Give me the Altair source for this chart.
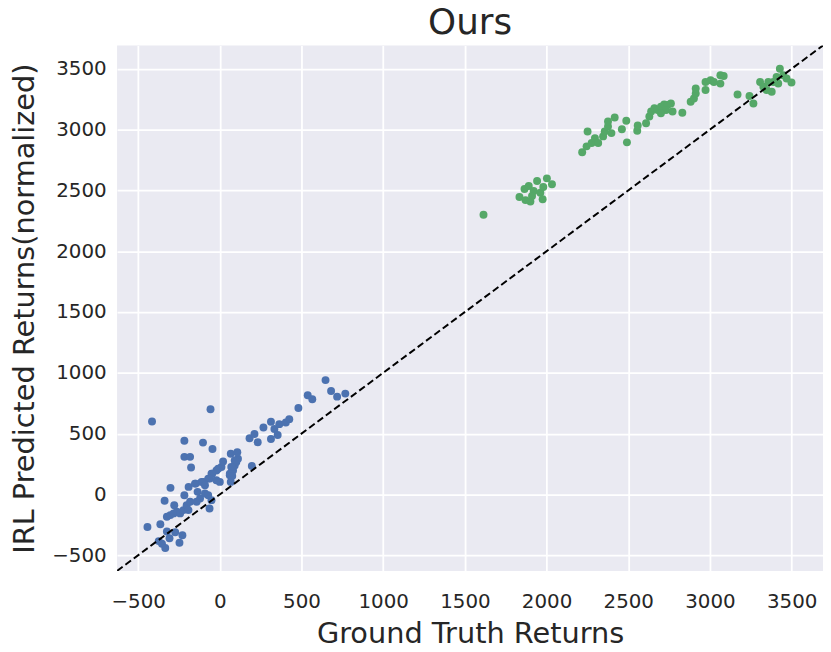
import altair as alt
import pandas as pd

# ---- data ----
blue_x = [-415, -57, -217, -103, -45, -217, -182, -176, -302, -338,
          -443, -364, -354, -334, -374, -308, -247, -229, -273, -324,
          -324, -303, -283, -263, -243, -223, -279, -217, -203, -182,
          -192, -191, -148, -136, -121, -142, -91, -71, -51, -63,
          -101, -71, -51, -21, 10, 20, 0, 67, 61, 81,
          91, 101, 111, 67, 107, 196, 182, 212, 232, 313,
          267, 313, 334, 364, 404, 425, 481, 538, 566, 647,
          681, 718, 768, 354, 91, 70, 61, 76, -10, -47,
          -61, -21, -112, -152, -91]
blue_y = [600, 701, 442, 426, 374, 309, 309, 222, 54, -52,
          -268, -246, -406, -441, -384, -360, -398, -335, -311, -305,
          -183, -170, -156, -142, -156, -129, -88, -7, -88, -60,
          -129, 62, 89, 21, -33, -60, 7, -7, -47, -115,
          103, 130, 170, 197, 225, 271, 103, 103, 157, 197,
          238, 266, 293, 334, 347, 233, 462, 497, 429, 456,
          551, 597, 538, 578, 592, 619, 711, 815, 782, 940,
          850, 804, 829, 489, 279, 225, 170, 152, 211, 170,
          130, 116, 103, 89, 75]

green_x = [1614, 1834, 1871, 1901, 1891, 1942, 2002, 2033, 1921, 1962,
           1976, 1911, 1865, 1980, 2218, 2251, 2245, 2276, 2296, 2316,
           2346, 2356, 2376, 2376, 2417, 2397, 2461, 2488, 2492, 2555,
           2558, 2609, 2629, 2640, 2660, 2680, 2700, 2720, 2740, 2761,
           2771, 2731, 2700, 2831, 2882, 2902, 2913, 2913, 2973, 2973,
           3004, 3064, 3064, 3084, 3024, 3169, 3242, 3266, 3307, 3327,
           3347, 3378, 3388, 3408, 3428, 3449, 3469, 3499, 3418, 3357]
green_y = [2299, 2446, 2420, 2408, 2536, 2577, 2599, 2550, 2495, 2481,
           2427, 2454, 2511, 2528, 2813, 2985, 2862, 2889, 2930, 2889,
           2944, 2985, 3025, 3066, 3099, 2971, 3003, 3072, 2895, 2990,
           3033, 3052, 3107, 3148, 3175, 3161, 3188, 3207, 3202, 3215,
           3148, 3161, 3134, 3139, 3229, 3256, 3297, 3338, 3325, 3392,
           3406, 3378, 3447, 3441, 3392, 3289, 3276, 3215, 3392, 3352,
           3325, 3311, 3392, 3433, 3501, 3447, 3420, 3387, 3379, 3392]

limits = [-629, 3692]
tick_values = [-500, 0, 500, 1000, 1500, 2000, 2500, 3000, 3500]
groups = ["low", "high"]
colors = ["#4C72B0", "#55A868"]

pts = pd.concat([
    pd.DataFrame({"x": blue_x, "y": blue_y, "g": groups[0]}),
    pd.DataFrame({"x": green_x, "y": green_y, "g": groups[1]}),
], ignore_index=True)
diag = pd.DataFrame({"x": limits, "y": limits})

TXT = "#262626"
FONT = "DejaVu Sans"

xscale = alt.Scale(domain=limits, nice=False, zero=False)
yscale = alt.Scale(domain=limits, nice=False, zero=False)

xaxis = alt.Axis(values=tick_values, format="d", title="Ground Truth Returns",
                 labelPadding=21, titleBaseline="alphabetic", titleY=72)
yaxis = alt.Axis(values=tick_values, format="d", title="IRL Predicted Returns(normalized)",
                 labelPadding=11, titleAngle=270, titleBaseline="alphabetic",
                 titleX=-84, titleY=265)

points = alt.Chart(pts).mark_circle(size=64, opacity=1).encode(
    x=alt.X("x:Q", scale=xscale, axis=xaxis),
    y=alt.Y("y:Q", scale=yscale, axis=yaxis),
    color=alt.Color("g:N", scale=alt.Scale(domain=groups, range=colors), legend=None),
)

line = alt.Chart(diag).mark_line(color="black", strokeDash=[7, 3.5], strokeWidth=2,
                                 clip=True).encode(
    x=alt.X("x:Q", scale=xscale),
    y=alt.Y("y:Q", scale=yscale),
)

chart = alt.layer(points, line).properties(
    width=712,
    height=530,
    autosize=alt.AutoSizeParams(type="none"),
    padding={"left": 110, "top": 35, "right": 0, "bottom": 76},
    title=alt.TitleParams("Ours", fontSize=36, font=FONT, fontWeight="normal",
                          color=TXT, anchor="middle", frame="group", offset=4),
).configure_view(
    stroke=None, fill="#EAEAF2"
).configure_axis(
    grid=True, gridColor="white", gridWidth=1.8, domain=False, ticks=False,
    tickSize=0, labelFont=FONT, labelFontSize=20, labelColor=TXT,
    titleFont=FONT, titleFontSize=29, titleFontWeight="normal", titleColor=TXT,
)

chart.save("out.html", embed_options={"renderer": "svg", "actions": False})
